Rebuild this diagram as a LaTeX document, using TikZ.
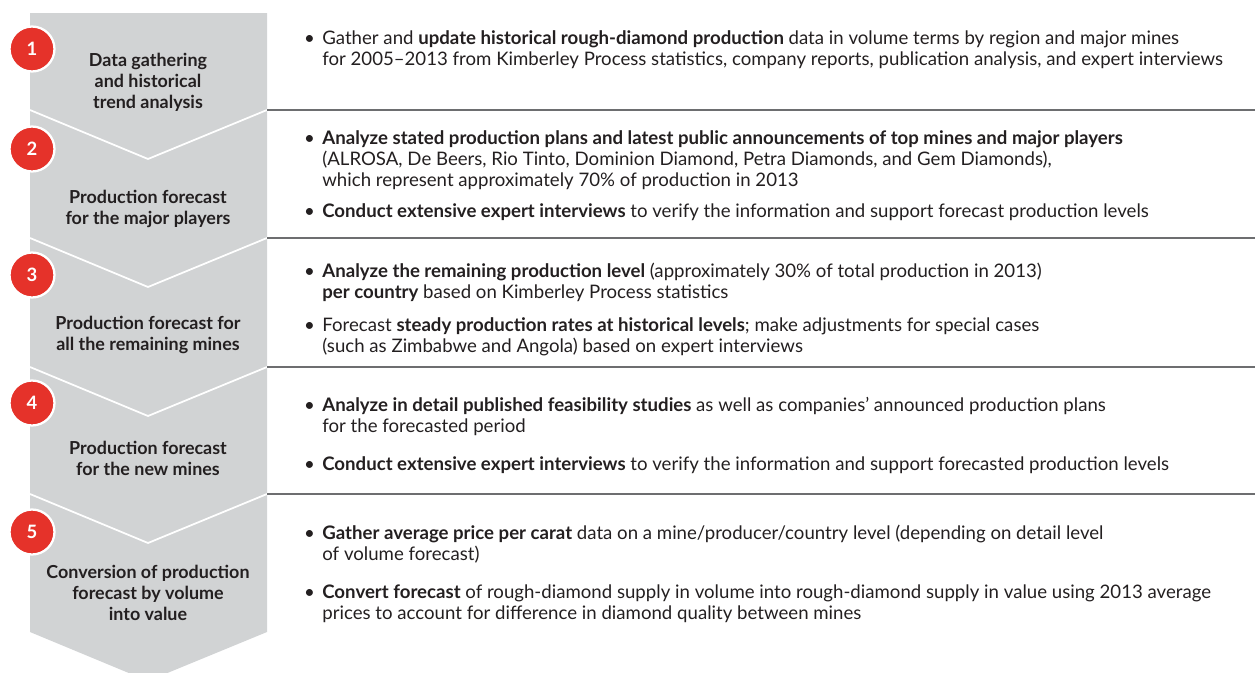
\documentclass[tikz,border=0pt]{standalone}
\usepackage{fontspec}
\setmainfont{Lato}
\usetikzlibrary{positioning}
\definecolor{stepgray}{HTML}{D1D3D4}
\definecolor{stepred}{HTML}{E5322A}
\definecolor{ink}{HTML}{231F20}
\definecolor{rulegray}{HTML}{6D6E70}
\newcommand{\bul}{\llap{\textbullet\hspace{0.4em}}}
\tikzset{
  stepnum/.style={circle, fill=stepred, draw=white, line width=1.3pt, minimum size=0.9cm, inner sep=0pt, text=white, font=\fontsize{10.5}{12}\selectfont\bfseries},
  steplabel/.style={align=center, inner sep=0pt, text=ink, font=\fontsize{10.2}{12}\selectfont\bfseries},
  bodytext/.style={anchor=north west, align=left, inner sep=0pt, text=ink, font=\fontsize{10.6}{12}\selectfont},
  sepline/.style={draw=rulegray, line width=0.7pt}
}
\begin{document}
\begin{tikzpicture}[x=0.02cm, y=-0.02cm]
\useasboundingbox (0,0) rectangle (1255,673);
% chevron column
\fill[stepgray] (30,13) -- (267,13) -- (267,632) -- (148,681) -- (30,632) -- cycle;
\draw[white, line width=1pt] (30,110) -- (148,159) -- (267,110);
\draw[white, line width=1pt] (30,238) -- (148,287) -- (267,238);
\draw[white, line width=1pt] (30,367) -- (148,416) -- (267,367);
\draw[white, line width=1pt] (30,494) -- (148,543) -- (267,494);
% rules on the right
\draw[sepline] (267,110) -- (1255,110);
\draw[sepline] (267,238) -- (1255,238);
\draw[sepline] (267,367) -- (1255,367);
\draw[sepline] (267,494) -- (1255,494);
% step numbers
\node[stepnum] (n1) at (32,49) {1};
\node[stepnum] (n2) at (32,149) {2};
\node[stepnum] (n3) at (32,275) {3};
\node[stepnum] (n4) at (32,403) {4};
\node[stepnum] (n5) at (32,532) {5};
% step labels
\node[steplabel] (l1) at (148,82) {Data gathering\\and historical\\trend analysis};
\node[steplabel] (l2) at (148,209) {Production forecast\\for the major players};
\node[steplabel] (l3) at (148,335) {Production forecast for\\all the remaining mines};
\node[steplabel] (l4) at (148,458) {Production forecast\\for the new mines};
\node[steplabel] (l5) at (148,593) {Conversion of production\\forecast by volume\\into value};
% descriptions
\node[bodytext] (t1) at (322,30) {\bul Gather and \textbf{update historical rough-diamond production} data in volume terms by region and major mines\\for 2005--2013 from Kimberley Process statistics, company reports, publication analysis, and expert interviews};
\node[bodytext] (t2a) at (322,130) {\bul\textbf{Analyze stated production plans and latest public announcements of top mines and major players}\\(ALROSA, De Beers, Rio Tinto, Dominion Diamond, Petra Diamonds, and Gem Diamonds),\\which represent approximately 70\% of production in 2013};
\node[bodytext] (t2b) at (322,203) {\bul\textbf{Conduct extensive expert interviews} to verify the information and support forecast production levels};
\node[bodytext] (t3a) at (322,263) {\bul\textbf{Analyze the remaining production level} (approximately 30\% of total production in 2013)\\\textbf{per country} based on Kimberley Process statistics};
\node[bodytext] (t3b) at (322,317) {\bul Forecast \textbf{steady production rates at historical levels}; make adjustments for special cases\\(such as Zimbabwe and Angola) based on expert interviews};
\node[bodytext] (t4a) at (322,397) {\bul\textbf{Analyze in detail published feasibility studies} as well as companies' announced production plans\\for the forecasted period};
\node[bodytext] (t4b) at (322,456) {\bul\textbf{Conduct extensive expert interviews} to verify the information and support forecasted production levels};
\node[bodytext] (t5a) at (322,525) {\bul\textbf{Gather average price per carat} data on a mine/producer/country level (depending on detail level\\of volume forecast)};
\node[bodytext] (t5b) at (322,584) {\bul\textbf{Convert forecast} of rough-diamond supply in volume into rough-diamond supply in value using 2013 average\\prices to account for difference in diamond quality between mines};
\end{tikzpicture}
\end{document}
